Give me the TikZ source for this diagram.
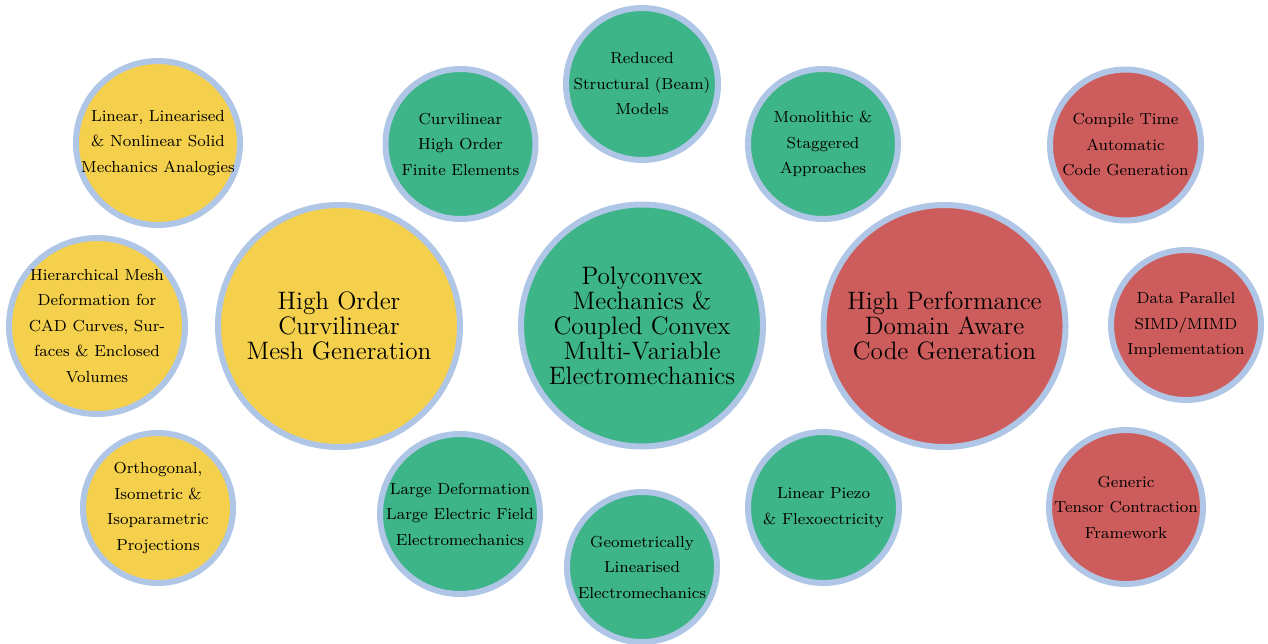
\documentclass[tikz,border=0pt]{standalone}
\begin{document}
\definecolor{ringblue}{RGB}{176,198,230}
\definecolor{sunyellow}{RGB}{244,208,76}
\definecolor{jadegreen}{RGB}{62,180,137}
\definecolor{brickred}{RGB}{205,93,93}
\begin{tikzpicture}[x=0.5pt,y=-0.5pt,
  disc/.style={circle,draw=ringblue,line width=3pt,inner sep=0pt,minimum size=#1},
  smalltxt/.style={align=center,inner sep=0pt,text=black,font=\fontsize{8}{12.75}\selectfont},
  bigtxt/.style={align=center,inner sep=0pt,text=black,font=\fontsize{12.6}{12.5}\selectfont}]
\useasboundingbox (0,0) rectangle (1268,643);
% outer radius r (px) -> minimum size = (r-3) pt
% --- mesh generation cluster (yellow)
\node[disc=121pt,fill=sunyellow] (yb) at (339,326) {};
\node[bigtxt] (ybt) at (yb) {High Order\\Curvilinear\\Mesh Generation};
\node[disc=82pt,fill=sunyellow] (y1) at (158,143) {};
\node[smalltxt] (y1t) at (y1) {Linear, Linearised\\\& Nonlinear Solid\\Mechanics Analogies};
\node[disc=88pt,fill=sunyellow] (y2) at (97,326) {};
\node[smalltxt] (y2t) at (y2) {Hierarchical Mesh\\Deformation for\\CAD Curves, Sur-\\faces \& Enclosed\\Volumes};
\node[disc=75pt,fill=sunyellow] (y3) at (158,508) {};
\node[smalltxt] (y3t) at (y3) {Orthogonal,\\Isometric \&\\Isoparametric\\Projections};
% --- electromechanics cluster (green)
\node[disc=121pt,fill=jadegreen] (gb) at (642,325.5) {};
\node[bigtxt] (gbt) at (gb) {Polyconvex\\Mechanics \&\\Coupled Convex\\Multi-Variable\\Electromechanics};
\node[disc=75pt,fill=jadegreen] (g1) at (460.5,144) {};
\node[smalltxt] (g1t) at (g1) {Curvilinear\\High Order\\Finite Elements};
\node[disc=76pt,fill=jadegreen] (g2) at (642,84) {};
\node[smalltxt] (g2t) at (g2) {Reduced\\Structural (Beam)\\Models};
\node[disc=75pt,fill=jadegreen] (g3) at (823,144) {};
\node[smalltxt] (g3t) at (g3) {Monolithic \&\\Staggered\\Approaches};
\node[disc=80pt,fill=jadegreen] (g4) at (460,514) {};
\node[smalltxt] (g4t) at (g4) {Large Deformation\\Large Electric Field\\Electromechanics};
\node[disc=75pt,fill=jadegreen] (g5) at (642,567) {};
\node[smalltxt] (g5t) at (g5) {Geometrically\\Linearised\\Electromechanics};
\node[disc=75.5pt,fill=jadegreen] (g6) at (823.5,507.5) {};
\node[smalltxt] (g6t) at (g6) {Linear Piezo\\\& Flexoectricity};
% --- code generation cluster (red)
\node[disc=121pt,fill=brickred] (rb) at (944.5,326) {};
\node[bigtxt] (rbt) at (rb) {High Performance\\Domain Aware\\Code Generation};
\node[disc=75.5pt,fill=brickred] (r1) at (1125.5,145) {};
\node[smalltxt] (r1t) at (r1) {Compile Time\\Automatic\\Code Generation};
\node[disc=75pt,fill=brickred] (r2) at (1186,325) {};
\node[smalltxt] (r2t) at (r2) {Data Parallel\\SIMD/MIMD\\Implementation};
\node[disc=77pt,fill=brickred] (r3) at (1126,507) {};
\node[smalltxt] (r3t) at (r3) {Generic\\Tensor Contraction\\Framework};
\end{tikzpicture}
\end{document}
